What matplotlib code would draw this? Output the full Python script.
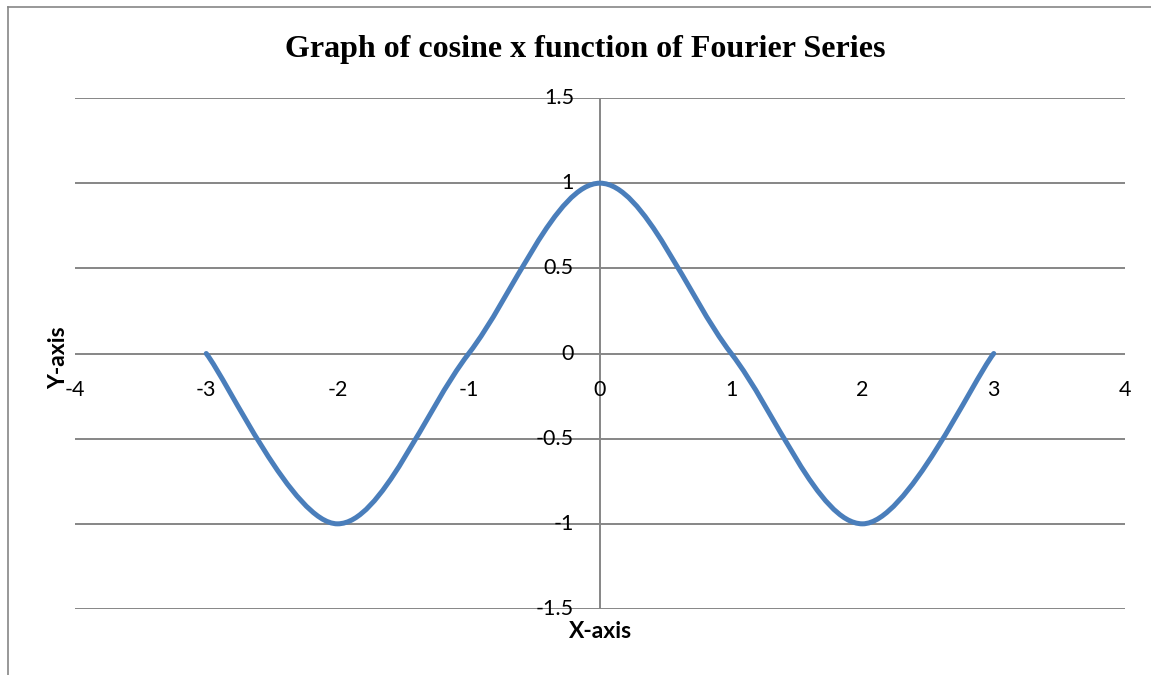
import numpy as np
import matplotlib
matplotlib.use("Agg")
import matplotlib.pyplot as plt
from matplotlib.path import Path
from matplotlib.patches import PathPatch
from matplotlib.lines import Line2D

# Data
x_vals = [-3, -2, -1, 0, 1, 2, 3]
y_vals = [0, -1, 0, 1, 0, -1, 0]
x_ticks = [-4, -3, -2, -1, 0, 1, 2, 3, 4]
y_ticks = [-1.5, -1, -0.5, 0, 0.5, 1, 1.5]
x_ticklabels = ["-4", "-3", "-2", "-1", "0", "1", "2", "3", "4"]
y_ticklabels = ["-1.5", "-1", "-0.5", "0", "0.5", "1", "1.5"]
title = "Graph of cosine x function of Fourier Series"

W, H = 1151, 675
fig = plt.figure(figsize=(W / 100, H / 100), dpi=100)
ax = fig.add_axes([75 / W, 1 - 609 / H, (1125 - 75) / W, (609 - 98) / H])

grid_c = "#868686"
line_c = "#4A7EBB"
lab_font = ["Lato", "DejaVu Sans"]
tick_fs = 15.5

# Smoothed line (Excel-style Bezier through data points)
P = np.column_stack([x_vals, y_vals]).astype(float)
n = len(P)
verts = [tuple(P[0])]
codes = [Path.MOVETO]
for i in range(n - 1):
    p0 = P[i - 1] if i > 0 else P[i]
    p1 = P[i]
    p2 = P[i + 1]
    p3 = P[i + 2] if i + 2 < n else P[i + 1]
    c1 = p1 + (p2 - p0) / 6.0
    c2 = p2 - (p3 - p1) / 6.0
    verts += [tuple(c1), tuple(c2), tuple(p2)]
    codes += [Path.CURVE4] * 3
patch = PathPatch(Path(verts, codes), facecolor="none", edgecolor=line_c,
                  lw=3.6, capstyle="round", joinstyle="round", zorder=5)
ax.add_patch(patch)

ax.set_xlim(-4, 4)
ax.set_ylim(-1.5, 1.5)

for yv in y_ticks:
    ax.axhline(yv, color=grid_c, lw=1.4, zorder=1)
ax.axvline(0, color=grid_c, lw=1.4, zorder=1)

for s in ["top", "right", "bottom", "left"]:
    ax.spines[s].set_visible(False)

ax.set_xticks(x_ticks)
ax.set_yticks(y_ticks)
ax.tick_params(axis="both", length=0)
ax.set_xticklabels([])
ax.set_yticklabels([])
# tick labels placed at the axis crossing (Excel style)
for xv, lab in zip(x_ticks, x_ticklabels):
    ax.annotate(lab, xy=(xv, 0), xytext=(0, -36), textcoords="offset pixels",
                ha="center", va="center", fontsize=tick_fs, family=lab_font,
                annotation_clip=False)
for yv, lab in zip(y_ticks, y_ticklabels):
    ax.annotate(lab, xy=(0, yv), xytext=(-26, 0), textcoords="offset pixels",
                ha="right", va="center", fontsize=tick_fs, family=lab_font,
                annotation_clip=False)

fig.text(585.5 / W, 1 - 49 / H, title, ha="center", va="center",
         fontsize=23, fontweight="bold", family=["Liberation Serif", "DejaVu Serif"])
fig.text(58.5 / W, 1 - 357.5 / H, "Y-axis", rotation=90, ha="center", va="center",
         fontsize=16.5, fontweight="bold", family=lab_font)
fig.text(601 / W, 1 - 632 / H, "X-axis", ha="center", va="center",
         fontsize=16.5, fontweight="bold", family=lab_font)

# outer border (top and left visible)
fig.add_artist(Line2D([8 / W, 8 / W], [0, 1 - 7 / H], color=grid_c, lw=1.2,
                      transform=fig.transFigure))
fig.add_artist(Line2D([8 / W, 1], [1 - 7 / H, 1 - 7 / H], color=grid_c, lw=1.2,
                      transform=fig.transFigure))

fig.savefig("out.png", dpi=100, facecolor="white")
